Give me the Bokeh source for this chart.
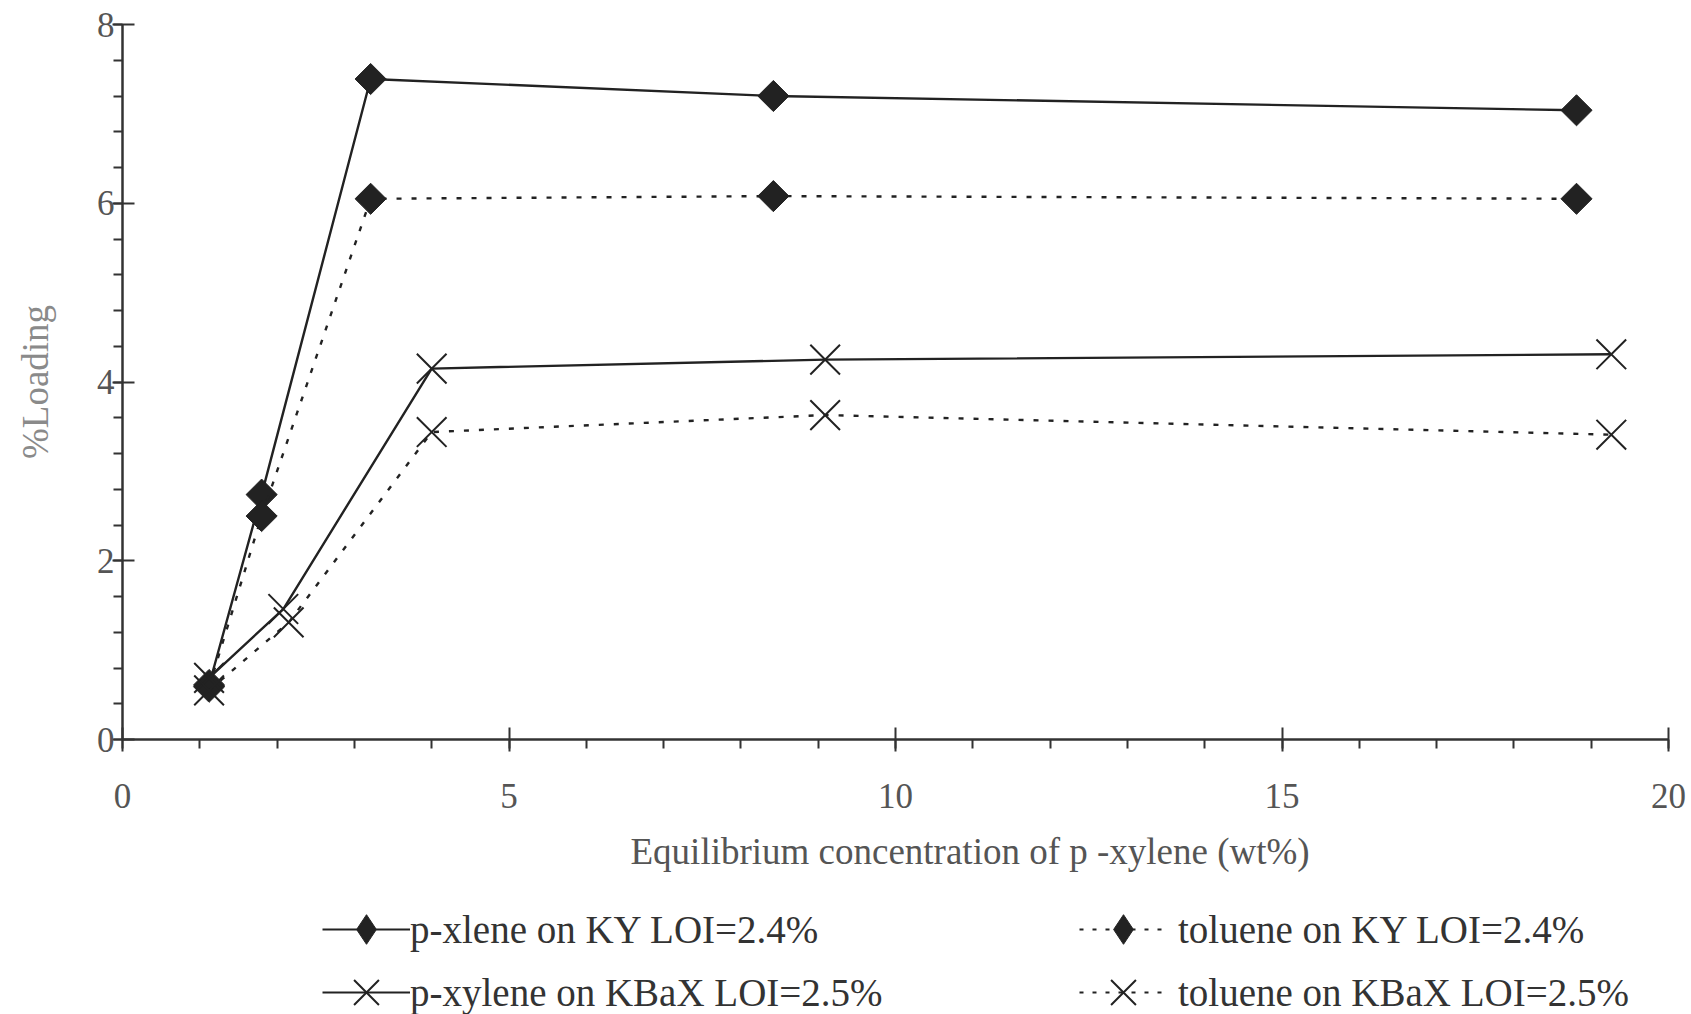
import numpy as np
from bokeh.plotting import figure
from bokeh.layouts import column
from bokeh.models import Legend, LegendItem, Range1d, SingleIntervalTicker, Title
from bokeh.embed import file_html
from bokeh.resources import INLINE

# Equilibrium concentration of p-xylene (wt%) and resulting loading (%)
pxy_ky_x = [1.12, 1.80, 3.21, 8.42, 18.81]
pxy_ky_y = [0.61, 2.74, 7.39, 7.20, 7.04]

tol_ky_x = [1.12, 1.80, 3.21, 8.42, 18.81]
tol_ky_y = [0.59, 2.50, 6.05, 6.08, 6.05]

pxy_kbax_x = [1.12, 2.08, 4.00, 9.09, 19.26]
pxy_kbax_y = [0.69, 1.46, 4.15, 4.25, 4.31]

tol_kbax_x = [1.12, 2.15, 4.00, 9.09, 19.26]
tol_kbax_y = [0.55, 1.31, 3.44, 3.63, 3.41]

labels = [
    "p-xlene on KY LOI=2.4%",
    "toluene on KY LOI=2.4%",
    "p-xylene on KBaX LOI=2.5%",
    "toluene on KBaX LOI=2.5%",
]

FONT = "Liberation Serif"
INK = "#222222"
W = 1691
MAIN_H = 890
KEY_H = 124

p = figure(
    width=W, height=MAIN_H,
    x_range=Range1d(0, 20), y_range=Range1d(0, 8),
    output_backend="svg", toolbar_location=None,
    min_border_left=122, min_border_right=23,
    min_border_top=24, min_border_bottom=MAIN_H - 741,
)
p.outline_line_color = None
p.xgrid.visible = False
p.ygrid.visible = False
p.background_fill_color = "white"
p.border_fill_color = "white"

p.xaxis.ticker = SingleIntervalTicker(interval=5, num_minor_ticks=5)
p.yaxis.ticker = SingleIntervalTicker(interval=2, num_minor_ticks=5)

for ax in (p.xaxis[0], p.yaxis[0]):
    ax.axis_line_color = "#333333"
    ax.axis_line_width = 2.5
    ax.major_tick_line_color = "#333333"
    ax.major_tick_line_width = 2
    ax.minor_tick_line_color = "#333333"
    ax.minor_tick_line_width = 2
    ax.major_tick_in = 12
    ax.major_tick_out = 12
    ax.minor_tick_in = 0
    ax.minor_tick_out = 9
    ax.major_label_text_font = FONT
    ax.major_label_text_font_size = "35px"
    ax.major_label_text_color = "#555555"
    ax.axis_label_text_font = FONT
    ax.axis_label_text_font_style = "normal"
    ax.axis_label_text_font_size = "37px"

p.xaxis.major_label_standoff = 32
p.yaxis.major_tick_out = 10
p.yaxis.major_label_standoff = -2
p.yaxis.axis_label = "%Loading"
p.yaxis.axis_label_text_color = "#8a8a8a"
p.yaxis.axis_label_standoff = 38

# x-axis caption, set a little right of the frame centre
p.add_layout(Title(
    text="Equilibrium concentration of p -xylene (wt%)",
    align="left", offset=508, standoff=37,
    text_font=FONT, text_font_size="37px", text_font_style="normal",
    text_color="#555555",
), "below")

series = [
    (pxy_ky_x, pxy_ky_y, "solid", "square"),
    (tol_ky_x, tol_ky_y, "5 10", "square"),
    (pxy_kbax_x, pxy_kbax_y, "solid", "x"),
    (tol_kbax_x, tol_kbax_y, "5 10", "x"),
]

for xs, ys, dash, marker in series:
    p.line(xs, ys, line_color=INK, line_width=2.4, line_dash=dash)
    if marker == "square":
        p.scatter(xs, ys, marker="square", size=22, angle=np.pi / 4,
                  fill_color=INK, line_color=INK, line_width=1)
    else:
        p.scatter(xs, ys, marker="x", size=42, line_color=INK, line_width=2)

# key panel underneath the chart (its frame lines up with the chart frame)
q = figure(
    width=W, height=KEY_H,
    x_range=Range1d(0, 1), y_range=Range1d(0, 1),
    output_backend="svg", toolbar_location=None,
    min_border_left=0, min_border_right=0,
    min_border_top=0, min_border_bottom=0,
)
q.axis.visible = False
q.xgrid.visible = False
q.ygrid.visible = False
q.outline_line_color = None
q.border_fill_color = "white"

# (left edge in frame px, row centre from top, glyph height, label standoff)
key_layout = [
    (200, 39, 74, 0),
    (957, 39, 74, 11),
    (200, 102, 90, 0),
    (957, 102, 90, 11),
]

for (xs, ys, dash, marker), lab, (lx, cy, gh, so) in zip(series, labels, key_layout):
    key_dash = "4 9" if dash != "solid" else "solid"
    ln = q.line([np.nan], [np.nan], line_color=INK, line_width=2.2, line_dash=key_dash)
    if marker == "square":
        mk = q.scatter([np.nan], [np.nan], marker="diamond", fill_color=INK,
                       line_color=INK, line_width=1)
    else:
        mk = q.scatter([np.nan], [np.nan], marker="x", line_color=INK,
                       line_width=2)
    q.add_layout(Legend(
        items=[LegendItem(label=lab, renderers=[ln, mk])],
        location=(lx, KEY_H - cy - gh // 2), orientation="vertical",
        glyph_width=88, glyph_height=gh, label_height=gh,
        label_standoff=so, spacing=0, padding=0, margin=0,
        border_line_color=None, background_fill_alpha=0,
        label_text_font=FONT, label_text_font_size="39px",
        label_text_color="#333333",
    ))

open("out.html", "w").write(file_html(column(p, q, spacing=0), INLINE))
